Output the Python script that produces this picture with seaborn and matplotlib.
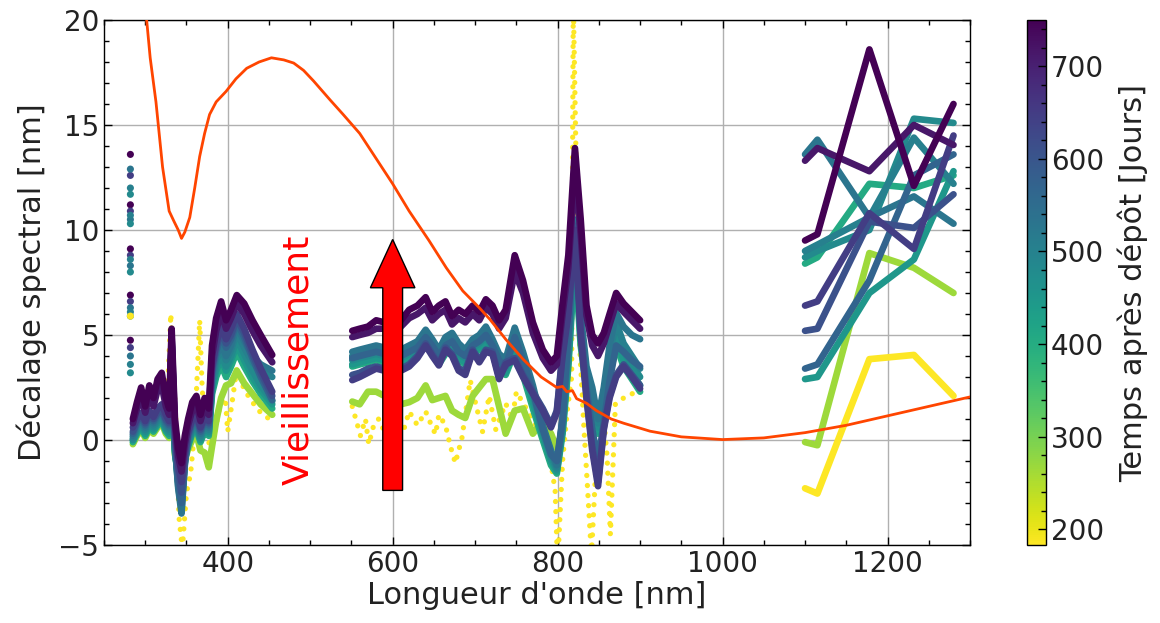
import numpy as np
import pandas as pd
import matplotlib
matplotlib.use("Agg")
import matplotlib.pyplot as plt
import seaborn as sns
from matplotlib.ticker import MultipleLocator
from matplotlib.colors import Normalize
from matplotlib.cm import ScalarMappable

# ---------------- data ----------------
times = [180, 265, 405, 450, 480, 505, 530, 570, 610, 650, 715, 750]
t_min, t_max = 183, 750

# UV region (shared wavelength knots)
uv_x = [285, 290, 295, 300, 305, 310, 315, 320, 325, 329, 332, 336, 340, 344, 348,
        352, 357, 362, 367, 372, 377, 381, 386, 392, 398, 404, 411, 420, 430, 440, 454]
uv_750 = [1.0, 1.8, 2.5, 1.6, 2.6, 2.0, 2.9, 3.2, 2.0, 1.5, 5.3, 1.0, -0.4, -1.1, 0.2,
          1.0, 1.8, 2.1, 1.2, 2.0, 1.5, 4.5, 5.8, 6.6, 5.7, 6.2, 6.9, 6.5, 5.7, 5.0, 4.05]
uv_715 = [0.8, 1.5, 2.0, 1.3, 2.2, 1.6, 2.4, 2.6, 1.6, 1.2, 4.9, 0.7, -0.8, -1.5, -0.2,
          0.7, 1.4, 1.7, 0.9, 1.6, 1.2, 4.0, 5.2, 6.1, 5.3, 5.8, 6.5, 6.0, 5.2, 4.5, 3.7]
uv_650 = [0.6, 1.0, 1.3, 0.9, 1.4, 1.1, 1.5, 1.7, 1.2, 0.9, 4.6, 0.4, -1.2, -2.0, -0.6,
          0.4, 1.0, 1.2, 0.6, 1.1, 0.9, 3.5, 4.6, 5.4, 4.8, 5.3, 6.0, 5.3, 4.3, 3.4, 2.3]
uv_610 = [0.4, 0.9, 1.2, 0.8, 1.2, 1.0, 1.3, 1.5, 1.0, 0.8, 4.5, 0.2, -1.5, -2.5, -0.8,
          0.3, 0.9, 1.1, 0.5, 1.0, 0.8, 3.4, 4.4, 5.2, 4.6, 5.0, 5.8, 5.1, 4.1, 3.2, 2.1]
uv_570 = [0.3, 0.8, 1.1, 0.7, 1.1, 0.9, 1.2, 1.4, 0.9, 0.7, 4.7, 0.0, -2.0, -3.0, -1.0,
          0.2, 0.8, 1.0, 0.4, 0.9, 0.7, 3.2, 4.2, 5.0, 4.4, 4.8, 5.6, 4.9, 3.9, 3.0, 1.9]
uv_530 = [0.2, 0.7, 1.0, 0.6, 1.0, 0.8, 1.1, 1.3, 0.8, 0.6, 4.8, -0.2, -2.3, -3.5, -1.2,
          0.1, 0.7, 0.9, 0.3, 0.8, 0.6, 3.0, 4.0, 4.6, 4.0, 4.5, 5.4, 4.7, 4.0, 3.6, 3.3]
uv_505 = [0.1, 0.6, 0.9, 0.5, 0.9, 0.7, 1.0, 1.2, 0.7, 0.5, 4.6, -0.3, -2.2, -3.3, -1.1,
          0.0, 0.6, 0.8, 0.2, 0.7, 0.5, 2.8, 3.8, 4.4, 3.8, 4.3, 5.1, 4.4, 3.7, 3.3, 3.0]
uv_480 = [0.0, 0.5, 0.8, 0.4, 0.8, 0.6, 0.9, 1.1, 0.6, 0.4, 4.4, -0.4, -2.0, -3.0, -1.0,
          -0.1, 0.5, 0.7, 0.1, 0.6, 0.4, 2.6, 3.5, 4.1, 3.5, 4.0, 4.8, 4.1, 3.3, 2.6, 1.85]
uv_450 = [0.0, 0.4, 0.7, 0.3, 0.7, 0.5, 0.8, 1.0, 0.5, 0.3, 4.2, -0.5, -1.8, -2.8, -0.9,
          -0.2, 0.4, 0.6, 0.0, 0.5, 0.3, 2.4, 3.3, 3.9, 3.3, 3.8, 4.5, 3.8, 3.0, 2.4, 1.7]
uv_405 = [-0.1, 0.3, 0.6, 0.2, 0.6, 0.4, 0.7, 0.9, 0.4, 0.2, 4.0, -0.6, -1.6, -2.5, -0.8,
          -0.3, 0.3, 0.5, -0.1, 0.4, 0.2, 2.2, 3.0, 3.6, 3.0, 3.5, 4.2, 3.5, 2.8, 2.2, 1.5]
uv_265 = [-0.2, 0.2, 0.5, 0.1, 0.5, 0.3, 0.6, 0.8, 0.3, 0.1, 3.8, -0.7, -1.4, -2.0, -0.9,
          -0.45, 0.0, 0.3, -0.5, -0.6, -1.3, -0.3, 0.9, 2.0, 2.6, 2.7, 3.3, 2.7, 2.2, 1.7, 1.2]
# yellow (earliest) UV, sparse points
uv_180_x = [285, 295, 305, 315, 325, 331, 337, 341, 345, 350, 355, 360, 366, 369, 373,
            379, 385, 391, 397, 400, 405, 411, 420, 430, 440, 454]
uv_180 = [0.3, 0.6, 0.4, 0.8, 0.5, 6.0, 1.0, -3.7, -5.2, -2.5, -1.6, 0.5, 5.7, 2.5, 0.3,
          -0.3, 0.5, 1.7, 2.0, 0.4, 1.7, 3.4, 2.4, 1.8, 1.3, 0.9]

# first points near 282 nm (vertical streak)
streak_times = [750, 650, 530, 505, 480, 180]
streak_750 = [13.6, 11.2, 9.1, 6.9, 4.75]
streak_650 = [12.6, 10.9, 8.8, 6.6, 4.4]
streak_530 = [12.9, 10.5, 8.3, 6.3, 4.0]
streak_505 = [12.0, 10.7, 8.6, 6.1, 3.6]
streak_480 = [11.7, 10.3, 8.0, 5.9, 3.2]
streak_180 = [5.9]
streak_nm = 282

# visible region
vis_x = [551, 560, 570, 580, 590, 600, 610, 620, 630, 640, 648, 656, 664, 672, 680, 688,
         697, 705, 713, 721, 729, 737, 748, 758, 770, 782, 792, 799, 806, 813, 821, 828,
         835, 842, 849, 856, 863, 871, 880, 890, 900]
vis_750 = [5.2, 5.3, 5.4, 5.7, 5.6, 6.0, 5.7, 6.2, 6.4, 6.8, 6.1, 6.4, 6.6, 5.9, 6.2, 6.0,
           6.4, 6.1, 6.7, 6.4, 5.7, 6.2, 8.8, 7.6, 5.6, 4.3, 3.7, 4.0, 6.5, 8.8, 13.9, 10.5,
           6.4, 5.0, 4.6, 5.1, 6.0, 7.0, 6.5, 6.1, 5.7]
vis_715 = [4.9, 5.0, 5.1, 5.3, 5.3, 5.6, 5.4, 5.8, 6.0, 6.3, 5.7, 6.0, 6.2, 5.5, 5.8, 5.6,
           6.0, 5.7, 6.3, 6.0, 5.3, 5.8, 8.0, 7.0, 5.1, 3.9, 3.3, 3.6, 6.0, 8.2, 12.8, 9.8,
           5.9, 4.5, 4.0, 4.6, 5.5, 6.5, 6.1, 5.7, 5.3]
vis_650 = [2.85, 3.0, 3.2, 3.4, 3.3, 3.6, 3.3, 3.5, 3.9, 4.5, 4.0, 3.55, 4.3, 4.0, 3.3, 3.1,
           4.2, 3.7, 4.2, 4.1, 2.9, 3.6, 3.8, 3.0, 2.2, 1.4, 0.6, 1.3, 4.0, 6.0, 10.0, 5.0,
           2.0, -0.5, -2.2, 0.5, 2.0, 3.0, 3.5, 3.0, 2.45]
vis_610 = [3.1, 3.2, 3.4, 3.5, 3.4, 3.7, 3.4, 3.6, 4.0, 4.6, 4.1, 3.6, 4.4, 4.1, 3.4, 3.3,
           4.3, 3.8, 4.3, 4.2, 3.0, 3.7, 3.9, 3.1, 2.3, 1.5, 0.7, 1.4, 4.2, 6.2, 10.2, 5.2,
           2.1, -0.3, -2.0, 0.6, 2.1, 3.1, 3.6, 3.1, 2.6]
vis_570 = [3.9, 4.0, 4.1, 4.2, 4.1, 4.1, 4.0, 4.2, 4.4, 4.9, 4.5, 4.0, 4.5, 4.7, 4.2, 4.0,
           4.5, 4.7, 5.0, 4.5, 3.8, 3.5, 4.9, 3.8, 2.3, 0.5, -0.7, -1.0, 1.0, 5.0, 10.3, 5.5,
           2.5, 0.5, -1.0, 0.8, 2.8, 4.5, 4.2, 3.8, 3.5]
vis_530 = [4.2, 4.3, 4.4, 4.5, 4.4, 4.4, 4.3, 4.5, 4.7, 5.25, 4.8, 4.3, 4.9, 5.1, 4.6, 4.3,
           4.8, 5.0, 5.4, 4.8, 4.1, 3.85, 5.35, 4.2, 2.6, 0.7, -0.5, -1.2, 1.0, 5.0, 10.5, 6.0,
           3.5, 2.5, 1.0, 2.5, 4.5, 6.05, 5.4, 5.0, 4.8]
vis_505 = [4.0, 4.1, 4.2, 4.3, 4.2, 4.2, 4.1, 4.3, 4.5, 5.0, 4.6, 4.1, 4.6, 4.8, 4.3, 4.1,
           4.6, 4.8, 5.1, 4.6, 3.9, 3.6, 5.0, 3.9, 2.4, 0.6, -0.6, -1.3, 0.9, 4.6, 10.0, 5.6,
           3.2, 2.2, 0.8, 2.2, 4.1, 5.6, 4.6, 4.0, 3.4]
vis_480 = [3.8, 3.9, 4.0, 4.1, 4.0, 4.0, 3.9, 4.1, 4.3, 4.8, 4.4, 3.9, 4.4, 4.6, 4.1, 3.9,
           4.4, 4.6, 4.9, 4.4, 3.7, 3.4, 4.7, 3.6, 2.1, 0.4, -0.8, -1.4, 0.7, 4.2, 9.5, 5.2,
           2.9, 2.0, 0.6, 1.9, 3.7, 5.2, 4.2, 3.6, 3.0]
vis_450 = [3.6, 3.7, 3.8, 3.9, 3.8, 3.8, 3.7, 3.9, 4.1, 4.6, 4.2, 3.7, 4.2, 4.4, 3.9, 3.7,
           4.2, 4.4, 4.7, 4.2, 3.5, 3.2, 4.4, 3.3, 1.8, 0.2, -1.0, -1.5, 0.5, 3.8, 9.0, 4.8,
           2.6, 1.8, 0.4, 1.6, 3.3, 4.8, 3.8, 3.2, 2.6]
vis_405 = [3.5, 3.6, 3.7, 3.8, 3.7, 3.7, 3.6, 3.8, 4.0, 4.5, 4.1, 3.6, 4.1, 4.3, 3.8, 3.6,
           4.1, 4.3, 4.6, 4.1, 3.4, 3.1, 4.2, 3.1, 1.5, 0.0, -1.2, -1.6, 0.3, 3.5, 8.6, 4.5,
           2.4, 1.6, 0.3, 1.4, 3.0, 4.5, 3.5, 2.9, 2.3]
vis_265 = [1.83, 1.7, 2.3, 2.3, 2.1, 1.9, 1.7, 1.8, 2.0, 2.6, 1.9, 2.0, 2.1, 1.4, 1.2, 1.05,
           2.1, 2.5, 2.9, 2.9, 1.6, 0.3, 1.4, 1.5, 0.3, 0.9, 0.3, -0.4, 0.4]
vis_180_x = [551, 556, 561, 567, 571, 577, 583, 590, 598, 605, 612, 620, 630, 640, 648, 652,
             656, 664, 670, 676, 684, 694, 701, 709, 717, 725, 737, 745, 750, 762, 778, 790,
             797, 800, 806, 812, 817, 819, 826, 832, 836, 841, 848, 856, 860, 864, 870, 880,
             890, 900]
vis_180 = [1.6, 0.9, 0.2, 1.0, -0.2, 0.7, 1.0, 0.4, 0.9, 0.5, 0.3, 1.36, 0.7, 1.36, 0.6, 0.27,
           1.2, 0.7, -0.3, -1.1, 0.1, 2.85, 1.67, 0.4, 2.1, 0.5, 1.75, 1.0, 2.3, 1.5, 0.4, -0.6,
           -2.4, -6.0, -1.0, 1.5, 3.0, 21.0, 5.0, 0.5, -2.1, -5.5, 0.0, 1.0, -0.8, -4.5, 1.7, 2.0,
           2.2, 2.3]

# near-infrared region
nir_x = [1100, 1115, 1178, 1232, 1280]
nir_180 = [-2.3, -2.55, 3.85, 4.05, 2.1]
nir_265 = [-0.1, -0.25, 8.9, 8.2, 7.0]
nir_405 = [8.4, 8.7, 12.2, 12.0, 12.6]
nir_450 = [2.9, 3.0, 7.0, 8.6, 12.8]
nir_480 = [8.7, 9.0, 10.0, 15.3, 15.1]
nir_505 = [9.0, 9.3, 10.6, 14.4, 12.2]
nir_530 = [13.6, 14.3, 10.6, 11.6, 10.3]
nir_570 = [3.4, 3.6, 7.6, 12.6, 13.6]
nir_610 = [5.2, 5.3, 10.4, 10.1, 11.7]
nir_650 = [6.4, 6.6, 10.8, 9.1, 14.5]
nir_715 = [13.3, 13.9, 12.8, 15.0, 14.05]
nir_750 = [9.5, 9.8, 18.6, 12.1, 16.0]

# reference curve (orange)
ref_x = [301, 306, 313, 321, 329, 335, 340, 344, 348, 354, 360, 366, 372, 378, 386, 398,
         410, 423, 438, 453, 468, 480, 492, 504, 524, 540, 560, 580, 600, 620, 644, 665,
         685, 705, 718, 737, 758, 780, 799, 806, 811, 818, 823, 835, 847, 865, 880, 912,
         950, 1000, 1050, 1100, 1150, 1200, 1250, 1300]
ref_y = [20.3, 18.2, 16.1, 13.0, 10.9, 10.4, 10.0, 9.6, 9.9, 10.6, 12.0, 13.5, 14.6, 15.5,
         16.1, 16.6, 17.2, 17.7, 18.0, 18.2, 18.1, 17.95, 17.6, 17.1, 16.2, 15.5, 14.6, 13.4,
         12.2, 10.9, 9.5, 8.2, 7.1, 6.3, 5.74, 4.8, 3.85, 3.0, 2.5, 2.55, 2.3, 2.35, 1.97,
         1.75, 1.4, 1.0, 0.8, 0.42, 0.15, 0.02, 0.1, 0.35, 0.7, 1.15, 1.6, 2.05]

# ---------------- assemble tables ----------------
uv_sets = {265: uv_265, 405: uv_405, 450: uv_450, 480: uv_480, 505: uv_505, 530: uv_530,
           570: uv_570, 610: uv_610, 650: uv_650, 715: uv_715, 750: uv_750}
vis_sets = {265: vis_265, 405: vis_405, 450: vis_450, 480: vis_480, 505: vis_505,
            530: vis_530, 570: vis_570, 610: vis_610, 650: vis_650, 715: vis_715, 750: vis_750}
nir_sets = {180: nir_180, 265: nir_265, 405: nir_405, 450: nir_450, 480: nir_480,
            505: nir_505, 530: nir_530, 570: nir_570, 610: nir_610, 650: nir_650,
            715: nir_715, 750: nir_750}

rows = []
for t in times:
    if t in uv_sets:
        for x, y in zip(uv_x, uv_sets[t]):
            rows.append((x, y, t, f"{t}-uv"))
    if t in vis_sets:
        for x, y in zip(vis_x, vis_sets[t]):
            rows.append((x, y, t, f"{t}-vis"))
    for x, y in zip(nir_x, nir_sets[t]):
        rows.append((x, y, t, f"{t}-nir"))
df = pd.DataFrame(rows, columns=["nm", "shift", "time", "unit"])

yrows = [(x, y, "uv") for x, y in zip(uv_180_x, uv_180)] + \
        [(x, y, "vis") for x, y in zip(vis_180_x, vis_180)]
ydf = pd.DataFrame(yrows, columns=["nm", "shift", "unit"])

streak_sets = {750: streak_750, 650: streak_650, 530: streak_530, 505: streak_505,
               480: streak_480, 180: streak_180}
srows = [(streak_nm, y, t) for t in streak_times for y in streak_sets[t]]
sdf = pd.DataFrame(srows, columns=["nm", "shift", "time"])

refdf = pd.DataFrame({"nm": ref_x, "shift": ref_y})

# ---------------- plot ----------------
plt.rcParams["font.family"] = ["DejaVu Sans"]
cmap = plt.get_cmap("viridis_r")
norm = Normalize(t_min, t_max)

fig = plt.figure(figsize=(11.6, 6.23), dpi=100)
ax = fig.add_axes([104 / 1160, 1 - 545 / 623, 866 / 1160, 525 / 623])

sns.lineplot(data=ydf, x="nm", y="shift", units="unit", estimator=None, sort=False,
             color=cmap(norm(180)), linewidth=3.8, linestyle=(0, (0.01, 1.9)),
             dash_capstyle="round", ax=ax, legend=False, zorder=2)
sns.lineplot(data=df, x="nm", y="shift", hue="time", units="unit", estimator=None,
             sort=False, palette="viridis_r", hue_norm=(t_min, t_max), linewidth=4.8,
             solid_capstyle="round", solid_joinstyle="round", ax=ax, legend=False, zorder=3)
sns.scatterplot(data=sdf, x="nm", y="shift", hue="time", palette="viridis_r",
                hue_norm=(t_min, t_max), s=26, linewidth=0, ax=ax, legend=False, zorder=3)
sns.lineplot(data=refdf, x="nm", y="shift", color="#ff4500", linewidth=2.0,
             estimator=None, sort=False, ax=ax, legend=False, zorder=5)

ax.arrow(600, -2.4, 0, 11.95, width=24, head_width=54, head_length=2.3,
         length_includes_head=True, fc="red", ec="black", lw=1.0, zorder=6)
ax.text(485, 3.8, "Vieillissement", rotation=90, color="red", fontsize=26,
        ha="center", va="center", zorder=6)

ax.set_xlim(250, 1300)
ax.set_ylim(-5, 20)
ax.xaxis.set_major_locator(MultipleLocator(200))
ax.xaxis.set_minor_locator(MultipleLocator(50))
ax.yaxis.set_major_locator(MultipleLocator(5))
ax.yaxis.set_minor_locator(MultipleLocator(1))
ax.tick_params(which="both", direction="in", top=True, right=True, labelsize=20,
               color="black", labelcolor="#222222")
ax.tick_params(which="major", length=6, width=1)
ax.tick_params(which="minor", length=3.5, width=1)
ax.grid(True, which="major", color="#b0b0b0", linewidth=1.0, zorder=0)
ax.set_axisbelow(True)
for sp in ax.spines.values():
    sp.set_color("black")
    sp.set_linewidth(1.0)
ax.set_xlabel("Longueur d'onde [nm]", fontsize=22, labelpad=2, color="#222222")
ax.set_ylabel("Décalage spectral [nm]", fontsize=22, labelpad=8, color="#222222")

cax = fig.add_axes([1027 / 1160, 1 - 545 / 623, 19 / 1160, 525 / 623])
cb = fig.colorbar(ScalarMappable(norm=norm, cmap=cmap), cax=cax)
cb.ax.yaxis.set_major_locator(MultipleLocator(100))
cb.ax.yaxis.set_minor_locator(MultipleLocator(20))
cb.ax.tick_params(which="both", direction="in", labelsize=20, width=1,
                  labelcolor="#222222")
cb.ax.tick_params(which="major", length=6)
cb.ax.tick_params(which="minor", length=3.5)
cb.outline.set_linewidth(1.0)
cb.set_label("Temps après dépôt [Jours]", fontsize=22, labelpad=10, color="#222222")

fig.savefig("out.png", dpi=100)
